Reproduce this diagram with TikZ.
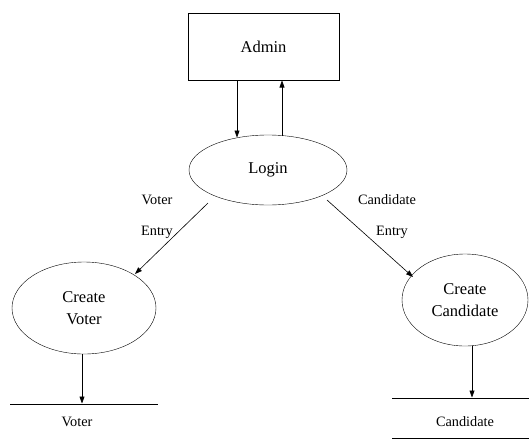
\documentclass[tikz,border=0pt]{standalone}
\usepackage{fontspec}
\setmainfont{Liberation Serif}
\usetikzlibrary{shapes.geometric,arrows.meta}
\begin{document}
\begin{tikzpicture}[x=1pt,y=-1pt,
  big/.style={font=\fontsize{16.5}{22}\selectfont},
  small/.style={font=\fontsize{14.3}{17}\selectfont},
  proc/.style={draw,ellipse,inner sep=0pt,big,align=center},
  flow/.style={-{Triangle[length=7pt,width=5pt]},line width=0.6pt},
  store/.style={line width=0.6pt}]
\useasboundingbox (0,0) rectangle (529,442);
\node[draw,rectangle,minimum width=151pt,minimum height=67pt,big] (admin) at (263.5,47) {Admin};
\node[proc,minimum width=158pt,minimum height=70pt] (login) at (268,170) {Login};
\node[proc,minimum width=144pt,minimum height=92pt] (cv) at (84,308) {Create\\Voter};
\node[proc,minimum width=126pt,minimum height=92pt] (cc) at (465,300) {Create\\Candidate};
\coordinate (a1) at (237,80.5);
\coordinate (l1) at (237,137.5);
\coordinate (a2) at (282,80.5);
\coordinate (l2) at (282,136);
\draw[flow] (a1) -- (l1);
\draw[flow] (l2) -- (a2);
\coordinate (ls1) at (208,203);
\coordinate (cvt) at (135,274);
\draw[flow] (ls1) -- (cvt);
\coordinate (ls2) at (327,200);
\coordinate (cct) at (413,277);
\draw[flow] (ls2) -- (cct);
\node[small] (lv1) at (157,200) {Voter};
\node[small] (lv2) at (157,232) {Entry};
\node[small] (lc1) at (387,200) {Candidate};
\node[small] (lc2) at (392,232) {Entry};
% data stores
\coordinate (vs1) at (10,404);
\coordinate (vs2) at (158,404);
\draw[store] (vs1) -- (vs2);
\coordinate (cvb) at (82,354);
\coordinate (vsa) at (82,403.5);
\draw[flow] (cvb) -- (vsa);
\node[small] (vst) at (77,422) {Voter};
\coordinate (cs1) at (392,398);
\coordinate (cs2) at (529,398);
\coordinate (cs3) at (392,438);
\coordinate (cs4) at (529,438);
\draw[store] (cs1) -- (cs2);
\draw[store] (cs3) -- (cs4);
\coordinate (ccb) at (472,346);
\coordinate (csa) at (472,397.5);
\draw[flow] (ccb) -- (csa);
\node[small] (cst) at (465,422) {Candidate};
\end{tikzpicture}
\end{document}
